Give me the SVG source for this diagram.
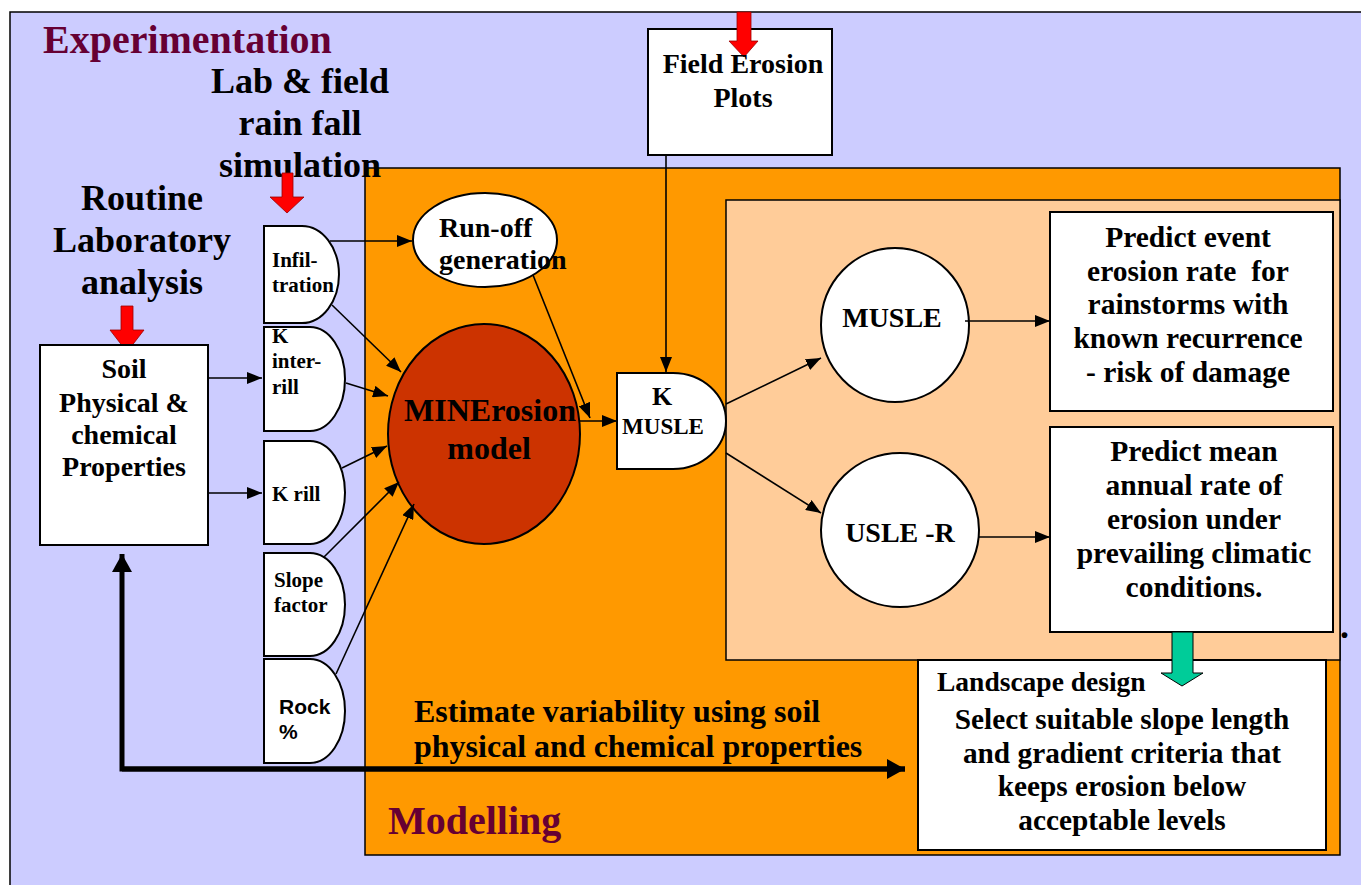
<svg xmlns="http://www.w3.org/2000/svg" width="1361" height="885" viewBox="0 0 1361 885">
<defs>
<style>
.t{font-family:"Liberation Serif","Times New Roman",serif;font-weight:bold;fill:#000}
.s{font-family:"Liberation Sans",Arial,sans-serif;font-weight:bold;fill:#000}
.title{font-family:"Liberation Serif","Times New Roman",serif;font-weight:bold;fill:#660033;font-size:40px}
.box{fill:#fff;stroke:#000;stroke-width:2}
.ln{fill:none;stroke:#000;stroke-width:1.6;marker-end:url(#ah)}
.red{fill:#ff0000;stroke:#990000;stroke-width:0.8}
</style>
<marker id="ah" markerUnits="userSpaceOnUse" markerWidth="16" markerHeight="12" refX="15" refY="6" orient="auto">
<path d="M0,0 L15,6 L0,12 z" fill="#000"/>
</marker>
<marker id="ahb" markerUnits="userSpaceOnUse" markerWidth="18" markerHeight="20" refX="18" refY="10" orient="auto">
<path d="M0,0 L18,10 L0,20 z" fill="#000"/>
</marker>
</defs>

<g id="background">
<rect x="10" y="12" width="1360" height="880" fill="#ccccff" stroke="#000" stroke-width="1.5"/>
<rect x="365" y="168" width="975" height="687" fill="#ff9900" stroke="#000" stroke-width="1.5"/>
<rect x="726" y="200" width="614" height="460" fill="#ffcc99" stroke="#000" stroke-width="1.5"/>
<text class="title" x="43" y="53">Experimentation</text>
<text class="title" x="388" y="834">Modelling</text>
<text class="t" x="1340" y="638" font-size="36">.</text>
</g>

<g id="lab-field-label">
<text class="t" font-size="36" text-anchor="middle"><tspan x="300" y="93">Lab &amp; field</tspan><tspan x="300" y="135">rain fall</tspan><tspan x="300" y="177">simulation</tspan></text>
</g>

<g id="routine-label">
<text class="t" font-size="36" text-anchor="middle"><tspan x="142" y="210">Routine</tspan><tspan x="142" y="252">Laboratory</tspan><tspan x="142" y="294">analysis</tspan></text>
</g>

<g id="field-erosion-plots">
<rect class="box" x="648" y="29" width="184" height="126"/>
<polygon class="red" points="737,12 751,12 751,41 758,41 744,57 729,41 737,41"/>
<text class="t" font-size="28" text-anchor="middle"><tspan x="743" y="73">Field Erosion</tspan><tspan x="743" y="107">Plots</tspan></text>
</g>

<g id="red-arrows">
<polygon class="red" points="282,173 293,173 293,197 304,197 287,213 270,197 282,197"/>
<polygon class="red" points="121,306 133,306 133,330 144,330 127,352 110,330 121,330"/>
</g>

<g id="soil-properties">
<rect class="box" x="40" y="345" width="168" height="200"/>
<text class="t" font-size="28" text-anchor="middle"><tspan x="124" y="378">Soil</tspan><tspan x="124" y="412">Physical &amp;</tspan><tspan x="124" y="444">chemical</tspan><tspan x="124" y="476">Properties</tspan></text>
</g>

<g id="infiltration">
<path class="box" d="M264,226 H302 A37,48.5 0 0 1 302,323 H264 Z"/>
<text class="t" font-size="21"><tspan x="272" y="267">Infil-</tspan><tspan x="272" y="292">tration</tspan></text>
</g>
<g id="k-interrill">
<path class="box" d="M264,327 H310 A35,52 0 0 1 310,431 H264 Z"/>
<text class="t" font-size="21"><tspan x="272" y="343">K</tspan><tspan x="272" y="368">inter-</tspan><tspan x="272" y="394">rill</tspan></text>
</g>
<g id="k-rill">
<path class="box" d="M264,441 H310 A35,51.5 0 0 1 310,544 H264 Z"/>
<text class="t" font-size="21" x="272" y="501">K rill</text>
</g>
<g id="slope-factor">
<path class="box" d="M264,553 H310 A35,51.5 0 0 1 310,656 H264 Z"/>
<text class="t" font-size="21"><tspan x="274" y="587">Slope</tspan><tspan x="274" y="612">factor</tspan></text>
</g>
<g id="rock">
<path class="box" d="M264,659 H310 A35,52 0 0 1 310,763 H264 Z"/>
<text class="s" font-size="21"><tspan x="279" y="714">Rock</tspan><tspan x="279" y="739">%</tspan></text>
</g>

<g id="runoff-generation">
<ellipse cx="485" cy="240" rx="72" ry="47" fill="#fff" stroke="#000" stroke-width="2"/>
<text class="t" font-size="28"><tspan x="439" y="237">Run-off</tspan><tspan x="439" y="269">generation</tspan></text>
</g>

<g id="minerosion-model">
<ellipse cx="484" cy="434" rx="96" ry="110" fill="#cc3300" stroke="#000" stroke-width="2"/>
<text class="t" font-size="32" text-anchor="middle"><tspan x="490" y="421">MINErosion</tspan><tspan x="489" y="459">model</tspan></text>
</g>

<g id="k-musle">
<path class="box" d="M617,373 H673 A53,48 0 0 1 673,469 H617 Z"/>
<text class="t" font-size="26" x="662" y="405" text-anchor="middle">K</text>
<text class="t" font-size="23" x="663" y="434" text-anchor="middle">MUSLE</text>
</g>

<g id="musle">
<ellipse cx="895" cy="325" rx="74" ry="77" fill="#fff" stroke="#000" stroke-width="2"/>
<text class="t" font-size="28" x="892" y="327" text-anchor="middle">MUSLE</text>
</g>

<g id="usle-r">
<ellipse cx="900" cy="530" rx="79" ry="77" fill="#fff" stroke="#000" stroke-width="2"/>
<text class="t" font-size="28" x="900" y="542" text-anchor="middle">USLE -R</text>
</g>

<g id="predict-event">
<rect class="box" x="1050" y="212" width="283" height="199"/>
<text class="t" font-size="29.5" text-anchor="middle" style="white-space:pre"><tspan x="1188" y="247">Predict event</tspan><tspan x="1188" y="281">erosion rate  for</tspan><tspan x="1188" y="314">rainstorms with</tspan><tspan x="1188" y="348">known recurrence</tspan><tspan x="1188" y="382">- risk of damage</tspan></text>
</g>

<g id="predict-mean">
<rect class="box" x="1050" y="427" width="283" height="205"/>
<text class="t" font-size="29.5" text-anchor="middle"><tspan x="1194" y="461">Predict mean</tspan><tspan x="1194" y="495">annual rate of</tspan><tspan x="1194" y="529">erosion under</tspan><tspan x="1194" y="563">prevailing climatic</tspan><tspan x="1194" y="597">conditions.</tspan></text>
</g>

<g id="landscape-design">
<rect class="box" x="918" y="660" width="408" height="190"/>
<polygon points="1172,632 1193,632 1193,673 1203,673 1182,686 1161,673 1172,673" fill="#00cc99" stroke="#000" stroke-width="1"/>
<text class="t" font-size="27.5" x="937" y="691">Landscape design</text>
<text class="t" font-size="29.3" text-anchor="middle"><tspan x="1122" y="729">Select suitable slope length</tspan><tspan x="1122" y="763">and gradient criteria that</tspan><tspan x="1122" y="796">keeps erosion below</tspan><tspan x="1122" y="830">acceptable levels</tspan></text>
</g>

<g id="connectors">
<line class="ln" x1="208" y1="378" x2="262" y2="378"/>
<line class="ln" x1="208" y1="493" x2="262" y2="493"/>
<line class="ln" x1="330" y1="241" x2="412" y2="241"/>
<line class="ln" x1="332" y1="305" x2="401" y2="372"/>
<line class="ln" x1="346" y1="383" x2="388" y2="396"/>
<line class="ln" x1="342" y1="468" x2="387" y2="446"/>
<line class="ln" x1="324" y1="557" x2="399" y2="482"/>
<line class="ln" x1="336" y1="674" x2="414" y2="504"/>
<line class="ln" x1="580" y1="421" x2="617" y2="421"/>
<line class="ln" x1="533" y1="275" x2="590" y2="418"/>
<line class="ln" x1="666" y1="155" x2="666" y2="372"/>
<line class="ln" x1="726" y1="404" x2="821" y2="358"/>
<line class="ln" x1="726" y1="453" x2="821" y2="513"/>
<line class="ln" x1="965" y1="321" x2="1050" y2="321"/>
<line class="ln" x1="979" y1="537" x2="1050" y2="537"/>
<polyline points="905,769 122,769 122,554" fill="none" stroke="#000" stroke-width="5" stroke-linejoin="miter" marker-end="url(#ahb)"/>
<line x1="122" y1="769" x2="905" y2="769" stroke="#000" stroke-width="5" marker-end="url(#ahb)"/>
</g>

<g id="estimate-label">
<text class="t" font-size="32"><tspan x="414" y="722">Estimate variability using soil</tspan><tspan x="414" y="757">physical and chemical properties</tspan></text>
</g>
</svg>
